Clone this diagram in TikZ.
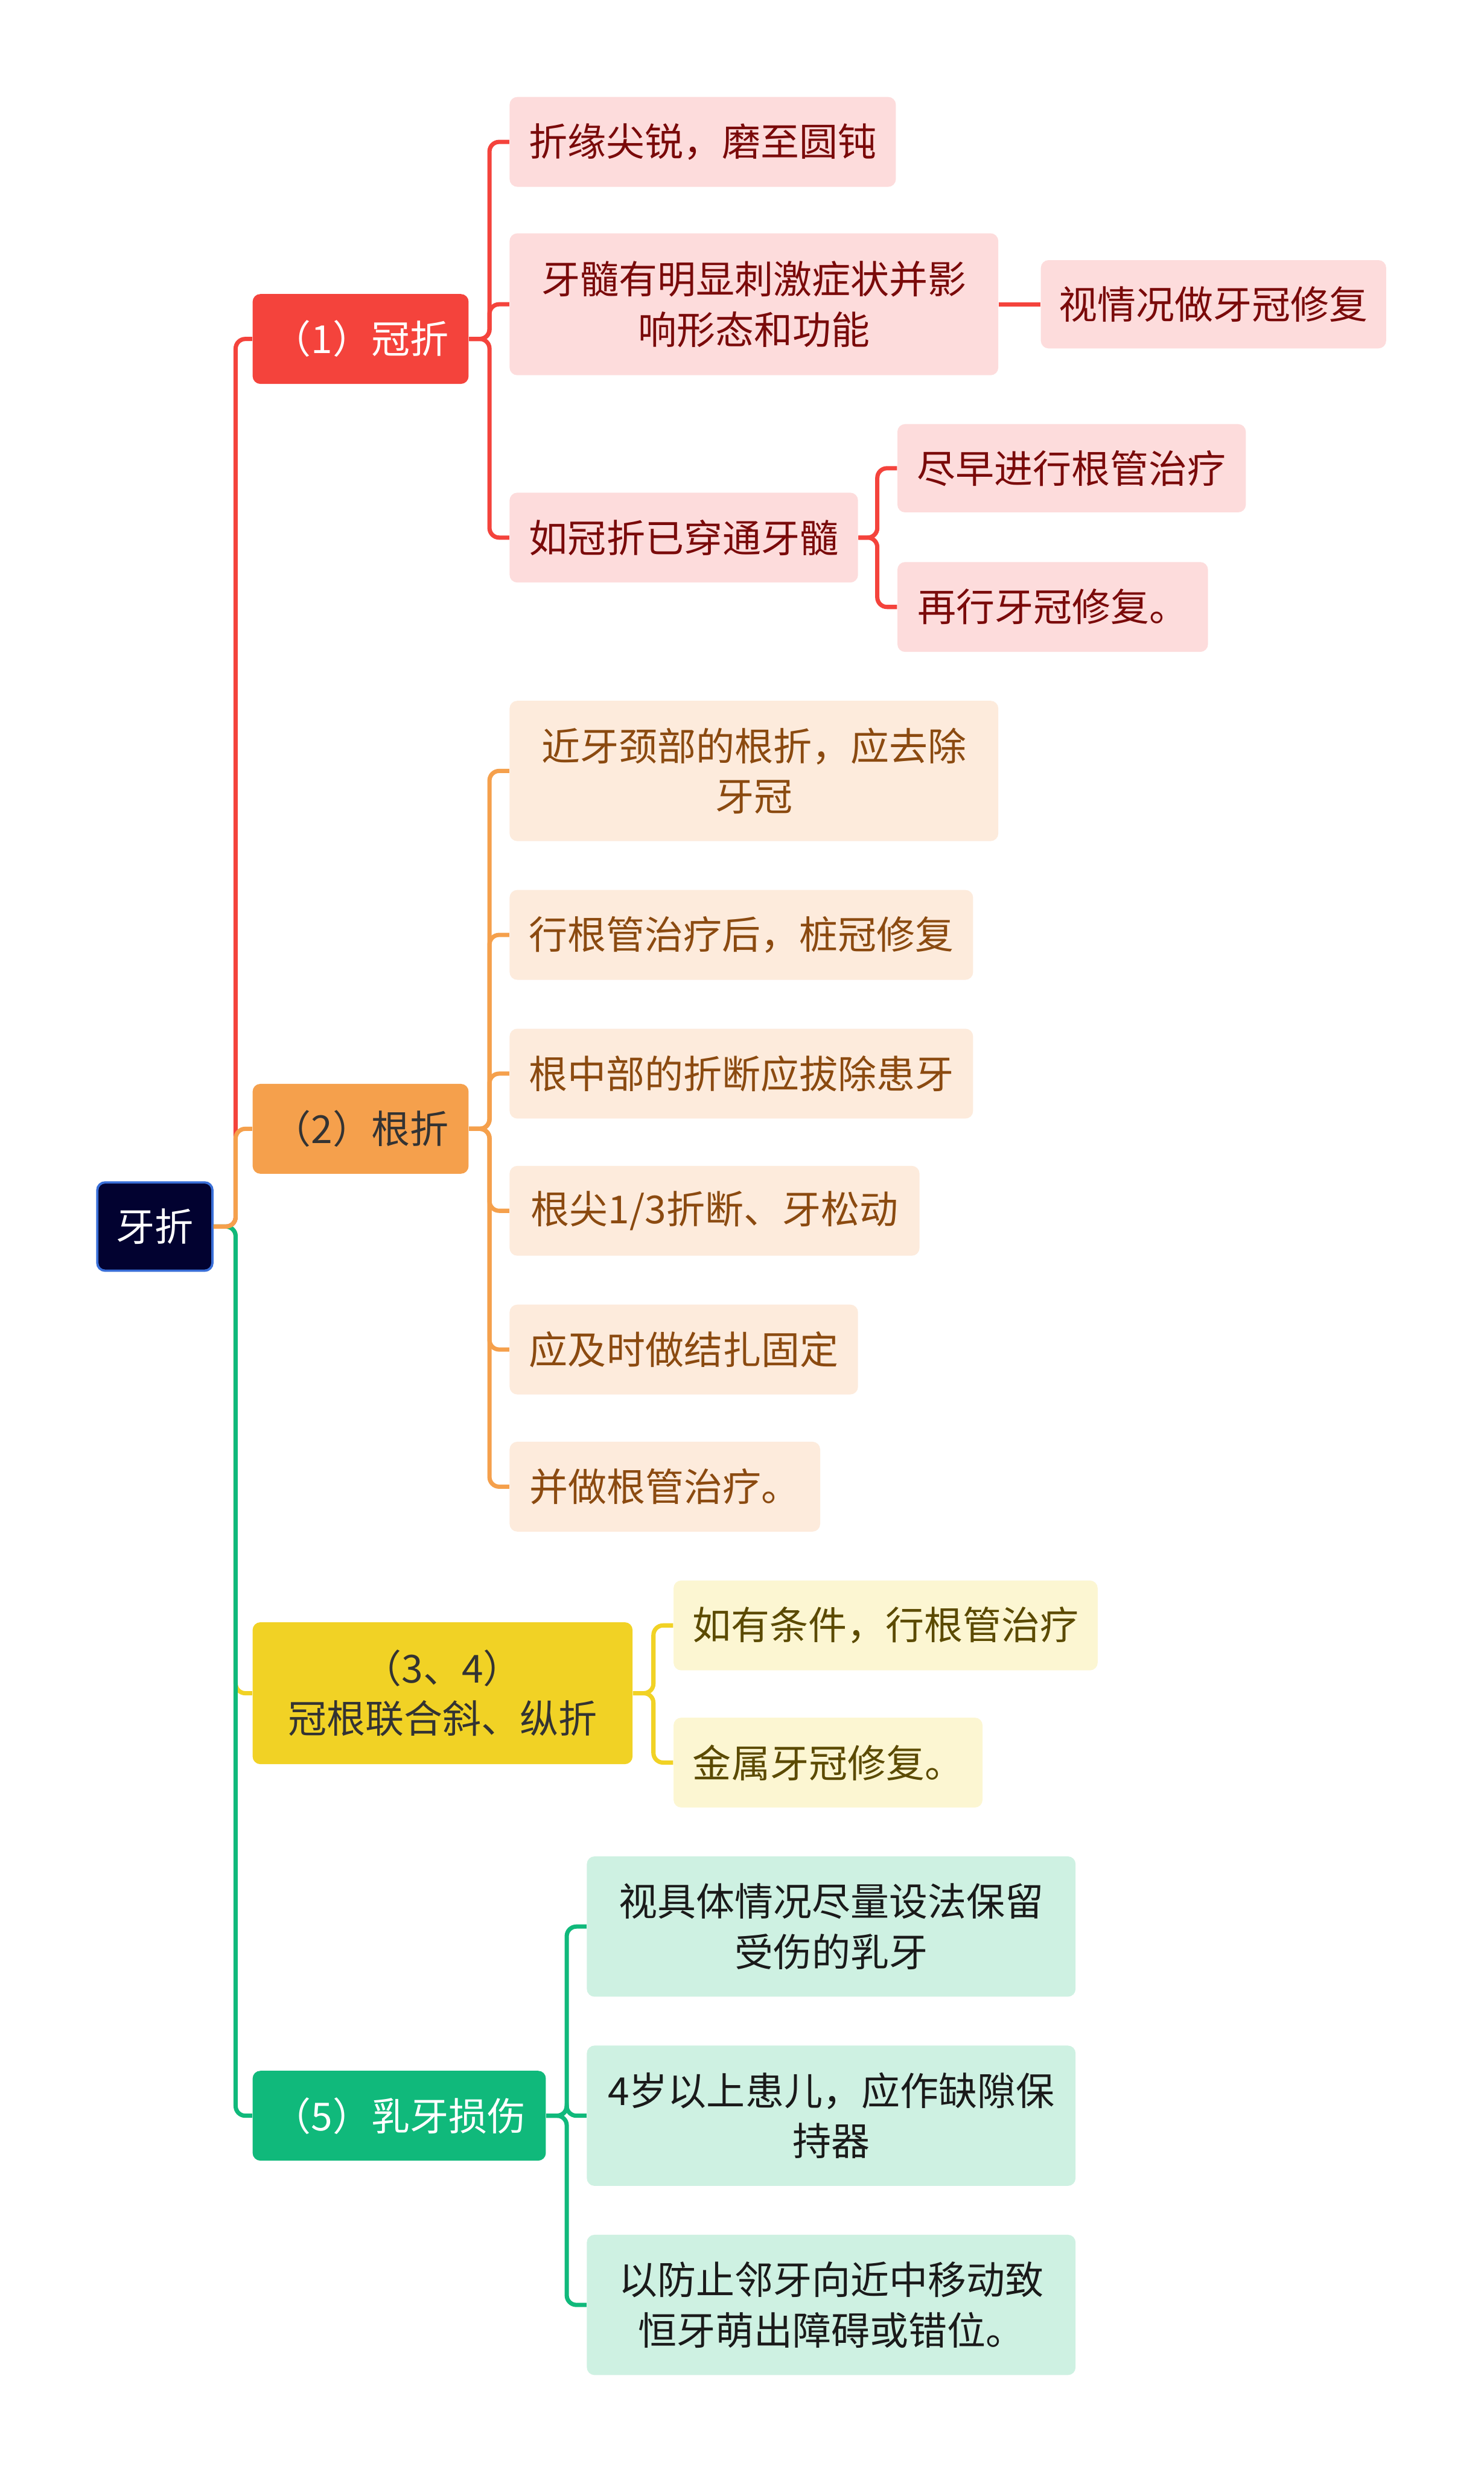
\documentclass[tikz,border=0pt]{standalone}
\usepackage{fontspec}
\setmainfont{Noto Sans CJK SC}
\definecolor{rootfill}{HTML}{020230}
\definecolor{rootline}{HTML}{3A6FD8}
\definecolor{redm}{HTML}{F4433C}
\definecolor{redl}{HTML}{FDDCDC}
\definecolor{redt}{HTML}{7A0A0A}
\definecolor{orm}{HTML}{F5A04C}
\definecolor{orl}{HTML}{FDEBDC}
\definecolor{ort}{HTML}{8B4A10}
\definecolor{yem}{HTML}{F1D225}
\definecolor{yel}{HTML}{FCF6D2}
\definecolor{yet}{HTML}{5B4A00}
\definecolor{grm}{HTML}{10B97B}
\definecolor{grl}{HTML}{CEF1E2}
\definecolor{grt}{HTML}{1A1A1A}
\definecolor{dtext}{HTML}{333333}
\newcommand\mmnode[7]{\node[#6, minimum width=#4*0.816pt, minimum height=#5*0.816pt] (#1) at (#2,#3) {#7};}
\begin{document}
\begin{tikzpicture}[x=0.816pt,y=-0.816pt,
  box/.style={rounded corners=4pt, inner sep=0pt, anchor=west, align=center, font=\fontsize{20}{26}\selectfont},
  rootbox/.style={box, fill=rootfill, draw=rootline, line width=1.2pt, text=white},
  redmain/.style={box, fill=redm, text=white},
  redsub/.style={box, fill=redl, text=redt},
  ormain/.style={box, fill=orm, text=dtext},
  orsub/.style={box, fill=orl, text=ort},
  yemain/.style={box, fill=yem, text=dtext},
  yesub/.style={box, fill=yel, text=yet},
  grmain/.style={box, fill=grm, text=white},
  grsub/.style={box, fill=grl, text=grt},
  conn/.style={line width=2.2pt, rounded corners=5pt},
]
\useasboundingbox (0,0) rectangle (941,1568);
\fill[white] (0,0) rectangle (941,1568);

% nodes
\mmnode{root}{61}{778}{73}{56}{rootbox}{牙折}
\mmnode{n1}{160}{215}{137}{57}{redmain}{（1）冠折}
\mmnode{n2}{160}{716}{137}{57}{ormain}{（2）根折}
\mmnode{n3}{160}{1074}{241}{90}{yemain}{（3、4）\\冠根联合斜、纵折}
\mmnode{n5}{160}{1342}{186}{57}{grmain}{（5）乳牙损伤}

\mmnode{a1}{323}{90}{245}{57}{redsub}{折缘尖锐，磨至圆钝}
\mmnode{a2}{323}{193}{310}{90}{redsub}{牙髓有明显刺激症状并影\\响形态和功能}
\mmnode{a3}{323}{341}{221}{57}{redsub}{如冠折已穿通牙髓}
\mmnode{a2x}{660}{193}{219}{56}{redsub}{视情况做牙冠修复}
\mmnode{a3x}{569}{297}{221}{56}{redsub}{尽早进行根管治疗}
\mmnode{a3y}{569}{385}{197}{57}{redsub}{再行牙冠修复。}

\mmnode{b1}{323}{489}{310}{89}{orsub}{近牙颈部的根折，应去除\\牙冠}
\mmnode{b2}{323}{593}{294}{57}{orsub}{行根管治疗后，桩冠修复}
\mmnode{b3}{323}{681}{294}{57}{orsub}{根中部的折断应拔除患牙}
\mmnode{b4}{323}{768}{260}{57}{orsub}{根尖1/3折断、牙松动}
\mmnode{b5}{323}{856}{221}{57}{orsub}{应及时做结扎固定}
\mmnode{b6}{323}{943}{197}{57}{orsub}{并做根管治疗。}

\mmnode{c1}{427}{1031}{269}{57}{yesub}{如有条件，行根管治疗}
\mmnode{c2}{427}{1118}{196}{57}{yesub}{金属牙冠修复。}

\mmnode{d1}{372}{1222}{310}{89}{grsub}{视具体情况尽量设法保留\\受伤的乳牙}
\mmnode{d2}{372}{1342}{310}{89}{grsub}{4岁以上患儿，应作缺隙保\\持器}
\mmnode{d3}{372}{1462}{310}{89}{grsub}{以防止邻牙向近中移动致\\恒牙萌出障碍或错位。}

% connectors root -> level 1
\draw[conn, draw=redm] (root.east) -- ++(14,0) |- (n1.west);
\draw[conn, draw=yem] (root.east) -- ++(14,0) |- (n3.west);
\draw[conn, draw=grm] (root.east) -- ++(14,0) |- (n5.west);
\draw[conn, draw=orm] (root.east) -- ++(14,0) |- (n2.west);

% red
\foreach \t in {a1,a2,a3} \draw[conn, draw=redm] (n1.east) -- ++(13,0) |- (\t.west);
\draw[conn, draw=redm] (a2.east) -- (a2x.west);
\foreach \t in {a3x,a3y} \draw[conn, draw=redm] (a3.east) -- ++(12,0) |- (\t.west);

% orange
\foreach \t in {b1,b2,b3,b4,b5,b6} \draw[conn, draw=orm] (n2.east) -- ++(13,0) |- (\t.west);

% yellow
\foreach \t in {c1,c2} \draw[conn, draw=yem] (n3.east) -- ++(13,0) |- (\t.west);

% green
\foreach \t in {d1,d2,d3} \draw[conn, draw=grm] (n5.east) -- ++(13,0) |- (\t.west);
\end{tikzpicture}
\end{document}
